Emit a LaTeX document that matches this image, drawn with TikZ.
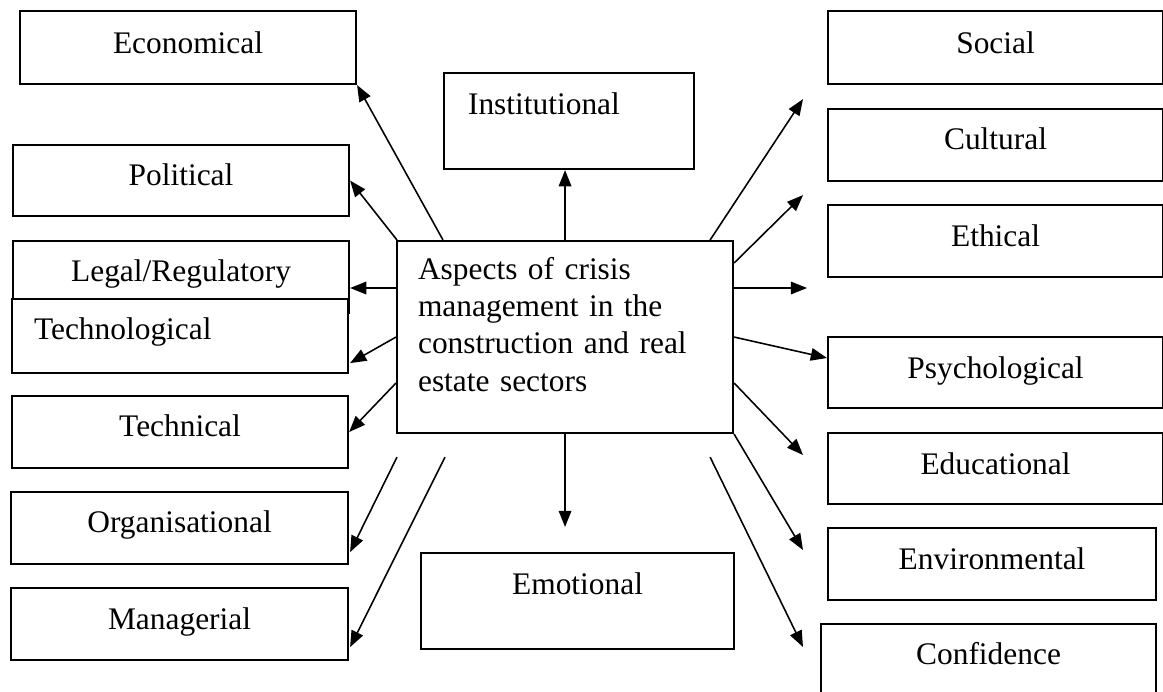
\documentclass[tikz,border=0pt]{standalone}
\usepackage{fontspec}
\setmainfont{Liberation Serif}
\usepackage{tikz}
\usetikzlibrary{calc}
\usetikzlibrary{arrows.meta}
\newcommand{\pxu}{0.382pt}
\tikzset{facetbox/.style={draw, line width=0.8pt, fill=white, rectangle, inner ysep=0pt, anchor=north west, font=\fontsize{12}{14.3}\selectfont},
         spoke/.style={-{Triangle[length=6.2pt,width=4.8pt]}, line width=0.6pt}}
% name, x, y, width, height, baseline from top, text
\newcommand{\facet}[7]{\node[facetbox, align=center, inner xsep=0pt, text width={#4*\pxu}, text height={#6*\pxu}, text depth={(#5-#6)*\pxu}] (#1) at ( #2 , #3 ) {#7};}
% same, text left with a margin
\newcommand{\facetl}[8]{\node[facetbox, align=left, inner xsep={#8*\pxu}, text width={(#4-2*#8)*\pxu}, text height={#6*\pxu}, text depth={(#5-#6)*\pxu}] (#1) at ( #2 , #3 ) {#7};}

\begin{document}
\begin{tikzpicture}[x=0.382pt, y=-0.382pt]
        \useasboundingbox (0,0) rectangle (1163,691);

        % centre
        \facetl{ctr}{396}{240}{336}{192}{38}{Aspects of crisis\\ management in the\\ construction and real\\ estate sectors}{21}

        % col 1
        \facet{econ}{19}{10}{336}{73}{42}{Economical}
        \facet{pol}{12}{144}{336}{71}{40}{Political}
        \facet{legal}{12}{240}{336}{72}{40}{Legal/Regulatory}
        \facetl{techno}{11}{298}{336}{74}{40}{Technological}{22}
        \facet{techn}{11}{395}{336}{72}{40}{Technical}
        \facet{org}{10}{491}{337}{72}{40}{Organisational}
        \facet{man}{10}{587}{337}{72}{41}{Managerial}

        % col 2
        \facetl{inst}{443}{72}{250}{96}{41}{Institutional}{24}
        \facet{emo}{420}{552}{313}{96}{41}{Emotional}

        % col 3
        \facet{soc}{827}{10}{335}{73}{42}{Social}
        \facet{cult}{827}{108}{335}{72}{40}{Cultural}
        \facet{eth}{827}{204}{335}{72}{41}{Ethical}
        \facet{psy}{827}{336}{335}{71}{41}{Psychological}
        \facet{edu}{827}{432}{335}{71}{41}{Educational}
        \facet{env}{827}{527}{328}{72}{41}{Environmental}
        \facet{conf}{820}{623}{335}{72}{40}{Confidence}

        % arrows left
        \draw[spoke] ($(ctr.north west)+(47,0)$) -- (econ.south east);
        \draw[spoke] ($(ctr.north west)+(1,0)$) -- (pol.east);
        \draw[spoke] ($(ctr.north west)+(0,48)$) coordinate (lg) -- (lg -| legal.east);
        \draw[spoke] (ctr.west) -- ($(techno.south east)+(1,-11)$);
        \draw[spoke] ($(ctr.north west)+(0,143)$) -- (techn.east);
        \draw[spoke] ($(ctr.south west)+(1,23)$) -- ($(org.south east)+(1,-13)$);
        \draw[spoke] ($(ctr.south west)+(49,23)$) -- ($(man.south east)+(1,-14)$);

        % arrows up and down
        \draw[spoke] (ctr.north) -- (ctr.north |- inst.south);
        \draw[spoke] (ctr.south) -- ($(ctr.south |- emo.north)+(0,-25)$);

        % arrows right
        \draw[spoke] ($(ctr.north east)+(-24,0)$) -- ($(soc.south west)+(-24,14)$);
        \draw[spoke] ($(ctr.north east)+(0,23)$) -- ($(cult.south west)+(-24,13)$);
        \draw[spoke] ($(ctr.north east)+(0,48)$) coordinate (et) -- ($(et)+(73,0)$);
        \draw[spoke] (ctr.east) -- ($(psy.north west)+(0,22)$);
        \draw[spoke] ($(ctr.north east)+(0,143)$) -- ($(edu.north west)+(-24,23)$);
        \draw[spoke] (ctr.south east) -- ($(env.north west)+(-24,23)$);
        \draw[spoke] ($(ctr.south east)+(-24,23)$) -- ($(conf.north west)+(-17,24)$);

    \end{tikzpicture}
\end{document}
